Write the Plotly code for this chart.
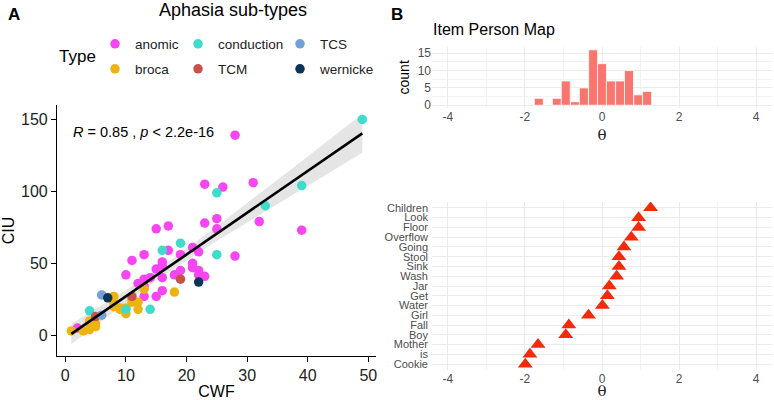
import numpy as np
import plotly.graph_objects as go

W, H = 774, 400

# ---------------- Data: panel A ----------------
types = ["anomic", "broca", "conduction", "TCM", "TCS", "wernicke"]
colors = {"anomic": "#F645F2", "broca": "#EBB412", "conduction": "#40DCCB",
          "TCM": "#C8524A", "TCS": "#74A0D8", "wernicke": "#0B3457"}

anomic_cwf = [2, 10, 11, 12, 13, 13, 13, 13, 15, 15, 15, 16, 16, 16, 16, 17, 17, 18, 19, 19,
              21, 21, 21, 22, 22, 22, 23, 23, 23, 25, 25, 26, 28, 28, 31, 32, 39, 14]
anomic_ciu = [5, 42, 52, 36, 56, 39, 27, 34, 74, 46, 27, 51, 48, 40, 31, 76, 59, 42, 56, 45,
              61, 50, 47, 58, 45, 42, 105, 78, 41, 81, 74, 103, 139, 55, 106, 79, 73, 40]
broca_cwf = [1, 3, 4, 4, 4, 5, 5, 8, 8, 8, 9, 9, 10, 10, 11, 11, 12, 12, 13, 18]
broca_ciu = [3, 3, 4, 10, 9, 8, 6, 27, 20, 23, 19, 18, 15, 19, 25, 23, 18, 23, 32, 30]
conduction_cwf = [4, 10, 14, 16, 19, 25, 25, 33, 39, 49]
conduction_ciu = [17, 18, 18, 59, 64, 99, 56, 90, 104, 150]
tcm_cwf = [5, 11, 19]
tcm_ciu = [13, 27, 39]
tcs_cwf = [6, 6]
tcs_ciu = [28, 14]
wernicke_cwf = [7, 22]
wernicke_ciu = [26, 37]

series = {
    "anomic": (anomic_cwf, anomic_ciu),
    "broca": (broca_cwf, broca_ciu),
    "conduction": (conduction_cwf, conduction_ciu),
    "TCM": (tcm_cwf, tcm_ciu),
    "TCS": (tcs_cwf, tcs_ciu),
    "wernicke": (wernicke_cwf, wernicke_ciu),
}

# ---------------- Data: panel B ----------------
theta_bins = [-1.64, -1.17, -0.94, -0.70, -0.47, -0.23, 0.0, 0.23, 0.47, 0.70, 0.94, 1.17]
bin_counts = [2, 2, 7, 1, 5, 16, 12, 7, 7, 10, 3, 4]
bin_width = 0.234

items = ["Cookie", "is", "Mother", "Boy", "Fall", "Girl", "Water", "Get", "Jar", "Wash",
         "Sink", "Stool", "Going", "Overflow", "Floor", "Look", "Children"]
item_theta = [-1.99, -1.87, -1.66, -0.94, -0.86, -0.35, 0.01, 0.14, 0.19, 0.38,
              0.44, 0.44, 0.57, 0.76, 0.95, 0.95, 1.26]

# ---------------- Figure ----------------
def px_x(p):
    return p / W

def px_y(p):
    return 1 - p / H

fig = go.Figure()

# regression fit with 95% CI
allx = np.array(sum([list(v[0]) for v in series.values()], []), dtype=float)
ally = np.array(sum([list(v[1]) for v in series.values()], []), dtype=float)
n = len(allx)
b1, b0 = np.polyfit(allx, ally, 1)
res = ally - (b0 + b1 * allx)
s = np.sqrt(np.sum(res ** 2) / (n - 2))
xg = np.linspace(allx.min(), allx.max(), 80)
xm = allx.mean()
se = s * np.sqrt(1 / n + (xg - xm) ** 2 / np.sum((allx - xm) ** 2))
yfit = b0 + b1 * xg
t = 1.99
fig.add_trace(go.Scatter(x=np.concatenate([xg, xg[::-1]]),
                         y=np.concatenate([yfit + t * se, (yfit - t * se)[::-1]]),
                         fill="toself", fillcolor="rgba(180,180,180,0.35)",
                         line=dict(width=0), hoverinfo="skip", showlegend=False,
                         xaxis="x", yaxis="y"))

legend_pos = {
    "anomic": (115, 44), "broca": (115, 69),
    "conduction": (198, 44), "TCM": (198, 69),
    "TCS": (300, 44), "wernicke": (300, 69),
}
for i, tname in enumerate(types):
    cx, cy = series[tname]
    lg = "legend" if i == 0 else f"legend{i + 1}"
    fig.add_trace(go.Scatter(x=cx, y=cy, mode="markers", name=tname,
                             marker=dict(color=colors[tname], size=9.5),
                             xaxis="x", yaxis="y", legend=lg))

fig.add_trace(go.Scatter(x=xg, y=yfit, mode="lines", line=dict(color="black", width=2.6),
                         showlegend=False, hoverinfo="skip", xaxis="x", yaxis="y"))

# histogram (pre-binned)
fig.add_trace(go.Bar(x=theta_bins, y=bin_counts, width=bin_width,
                     marker=dict(color="#F8766D", line=dict(color="white", width=0.8)),
                     showlegend=False, xaxis="x2", yaxis="y2"))

# item map
fig.add_trace(go.Scatter(x=item_theta, y=items, mode="markers",
                         marker=dict(symbol="triangle-up", size=13, color="#F52A0A"),
                         showlegend=False, xaxis="x3", yaxis="y3"))

font = "Liberation Sans, Arial, sans-serif"
grid = "#EBEBEB"
tickgray = "#4D4D4D"

layout = dict(
    width=W, height=H, margin=dict(l=0, r=0, t=0, b=0),
    paper_bgcolor="white", plot_bgcolor="rgba(0,0,0,0)",
    font=dict(family=font, color="black"),
    xaxis=dict(domain=[px_x(57), px_x(376)], range=[-1.37, 51.26],
               tickvals=[0, 10, 20, 30, 40, 50], showgrid=False, zeroline=False,
               showline=True, linecolor="black", linewidth=1.2,
               ticks="outside", ticklen=5, tickcolor="black",
               tickfont=dict(size=16, color="#222"),
               title=dict(text="CWF", font=dict(size=16), standoff=3), automargin=False),
    yaxis=dict(domain=[px_y(356), px_y(105)], range=[-14.4, 160],
               tickvals=[0, 50, 100, 150], showgrid=False, zeroline=False,
               showline=True, linecolor="black", linewidth=1.2,
               ticks="outside", ticklen=5, tickcolor="black",
               tickfont=dict(size=16, color="#222"),
               title=dict(text="CIU", font=dict(size=16), standoff=6), automargin=False),
    xaxis2=dict(domain=[px_x(432), px_x(772)], range=[-4.41, 4.41],
                tickvals=[-4, -2, 0, 2, 4], ticktext=["-4", "-2", "0", "2", "4"],
                showgrid=True, gridcolor=grid, gridwidth=1, zeroline=False,
                minor=dict(dtick=1, showgrid=True, gridcolor="#F2F2F2", gridwidth=0.8),
                tickfont=dict(size=12, color=tickgray), ticks="",
                title=dict(text="θ", font=dict(size=15, family="DejaVu Serif", color="#222"), standoff=6),
                automargin=False, anchor="y2"),
    yaxis2=dict(domain=[px_y(108), px_y(46.7)], range=[-0.8, 16.9],
                tickvals=[0, 5, 10, 15], showgrid=True, gridcolor=grid, gridwidth=1,
                minor=dict(tickvals=[2.5, 7.5, 12.5], showgrid=True, gridcolor="#F2F2F2", gridwidth=0.8),
                zeroline=False, tickfont=dict(size=12, color=tickgray), ticks="",
                title=dict(text="count", font=dict(size=14), standoff=4),
                automargin=False, anchor="x2"),
    xaxis3=dict(domain=[px_x(432), px_x(772)], range=[-4.41, 4.41],
                tickvals=[-4, -2, 0, 2, 4], ticktext=["-4", "-2", "0", "2", "4"],
                showgrid=True, gridcolor=grid, gridwidth=1, zeroline=False,
                minor=dict(dtick=1, showgrid=True, gridcolor="#F2F2F2", gridwidth=0.8),
                tickfont=dict(size=12, color=tickgray), ticks="",
                title=dict(text="θ", font=dict(size=15, family="DejaVu Serif", color="#222"), standoff=8),
                automargin=False, anchor="y3"),
    yaxis3=dict(domain=[px_y(370), px_y(202)], range=[-0.6, 16.6],
                type="category", categoryorder="array", categoryarray=items,
                tickmode="array", tickvals=items, ticktext=items,
                showgrid=True, gridcolor=grid, gridwidth=1, zeroline=False,
                tickfont=dict(size=11, color=tickgray), ticks="", ticklabelstandoff=3,
                automargin=False, anchor="x3"),
    annotations=[
        dict(text="<b>A</b>", x=px_x(6), y=px_y(14), xref="paper", yref="paper",
             xanchor="left", yanchor="middle", showarrow=False, font=dict(size=17)),
        dict(text="<b>B</b>", x=px_x(389), y=px_y(14), xref="paper", yref="paper",
             xanchor="left", yanchor="middle", showarrow=False, font=dict(size=17)),
        dict(text="Aphasia sub-types", x=px_x(233), y=px_y(10), xref="paper", yref="paper",
             xanchor="center", yanchor="middle", showarrow=False, font=dict(size=18)),
        dict(text="Type", x=px_x(57), y=px_y(57), xref="paper", yref="paper",
             xanchor="left", yanchor="middle", showarrow=False, font=dict(size=17)),
        dict(text="<i>R</i> = 0.85 , <i>p</i> < 2.2e-16", x=px_x(71), y=px_y(132),
             xref="paper", yref="paper", xanchor="left", yanchor="middle",
             showarrow=False, font=dict(size=14.5)),
        dict(text="Item Person Map", x=px_x(431), y=px_y(29), xref="paper", yref="paper",
             xanchor="left", yanchor="middle", showarrow=False, font=dict(size=16)),
    ],
)

for i, tname in enumerate(types):
    key = "legend" if i == 0 else f"legend{i + 1}"
    mx, my = legend_pos[tname]
    layout[key] = dict(x=px_x(mx - 20), y=px_y(my), xanchor="left", yanchor="middle",
                       bgcolor="rgba(0,0,0,0)", borderwidth=0,
                       font=dict(size=13.5, color="#222"), itemsizing="trace")

fig.update_layout(**layout)
fig.write_html("out.html")
